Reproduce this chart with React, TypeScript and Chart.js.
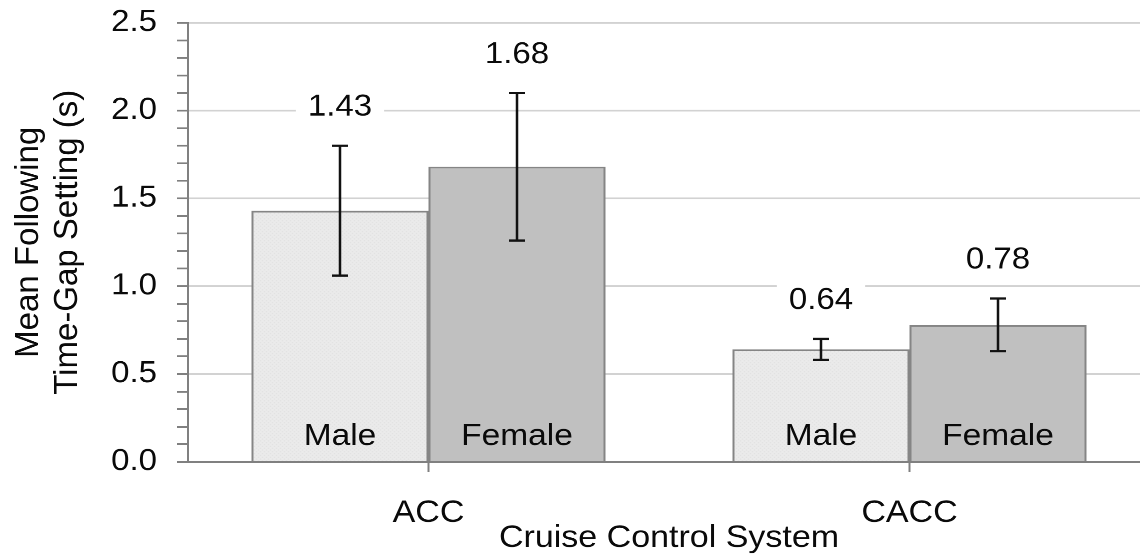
import { useEffect, useRef } from 'react';
import { Chart, registerables } from 'chart.js';

Chart.register(...registerables);

const categories = ['ACC', 'CACC'];
const seriesNames = ['Male', 'Female'];
const maleMeans = [1.43, 0.64];
const femaleMeans = [1.68, 0.78];
const maleErrors = [0.37, 0.06];
const femaleErrors = [0.42, 0.15];
const yMajorTicks = [0, 0.5, 1.0, 1.5, 2.0, 2.5];
const yTitle = ['Mean Following', 'Time-Gap Setting (s)'];
const xTitle = 'Cruise Control System';

const FONT = "'Liberation Sans', Arial, Helvetica, sans-serif";
const SY = 0.91; // vertical squash of the original picture
const CANVAS_W = 1170;
const CANVAS_H = 612;
const TEXT = '#0a0a0a';
const errorSets = [maleErrors, femaleErrors];

const isMajor = (v: number) => yMajorTicks.some((m) => Math.abs(m - v) < 1e-6);

function makePattern(): CanvasPattern | string {
  const c = document.createElement('canvas');
  c.width = 4;
  c.height = 4;
  const g = c.getContext('2d');
  if (!g) return '#e8e8e8';
  g.fillStyle = '#ebebeb';
  g.fillRect(0, 0, 4, 4);
  g.fillStyle = '#dcdcdc';
  g.fillRect(0, 0, 1, 1);
  g.fillRect(2, 2, 1, 1);
  const p = g.createPattern(c, 'repeat');
  return p || '#e8e8e8';
}

const overlayPlugin = {
  id: 'overlay',
  afterDatasetsDraw(chart: any) {
    const ctx = chart.ctx as CanvasRenderingContext2D;
    const y = chart.scales.y;
    const base = y.getPixelForValue(0);
    ctx.save();
    chart.data.datasets.forEach((ds: any, di: number) => {
      const meta = chart.getDatasetMeta(di);
      const errs = errorSets[di];
      meta.data.forEach((bar: any, i: number) => {
        const v = ds.data[i] as number;
        const e = errs[i];
        const x = bar.x;
        const top = y.getPixelForValue(v + e);
        const bot = y.getPixelForValue(v - e);
        // error bar
        ctx.strokeStyle = '#111';
        ctx.lineWidth = 2.5;
        ctx.beginPath();
        ctx.moveTo(x, top);
        ctx.lineTo(x, bot);
        ctx.moveTo(x - 8, top);
        ctx.lineTo(x + 8, top);
        ctx.moveTo(x - 8, bot);
        ctx.lineTo(x + 8, bot);
        ctx.stroke();
        // value label with white box
        ctx.font = `33px ${FONT}`;
        const txt = v.toFixed(2);
        const w = ctx.measureText(txt).width;
        const cy = top - 42;
        ctx.fillStyle = '#ffffff';
        ctx.fillRect(x - w / 2 - 12, cy - 19, w + 24, 38);
        ctx.fillStyle = TEXT;
        ctx.textAlign = 'center';
        ctx.textBaseline = 'middle';
        ctx.fillText(txt, x, cy);
        // series name inside bar
        ctx.font = `33.5px ${FONT}`;
        ctx.fillText(ds.label, x, base - 27.5);
      });
    });
    ctx.restore();
  },
  afterDraw(chart: any) {
    // y-axis title, drawn rotated; counter the page's vertical squash so its length is true
    const ctx = chart.ctx as CanvasRenderingContext2D;
    const area = chart.chartArea;
    const cy = (area.top + area.bottom) / 2;
    ctx.save();
    ctx.font = `33px ${FONT}`;
    ctx.fillStyle = TEXT;
    ctx.textAlign = 'center';
    ctx.textBaseline = 'middle';
    yTitle.forEach((line, i) => {
      ctx.save();
      ctx.translate(29 + i * 39, cy);
      ctx.scale(1, 1 / SY);
      ctx.rotate(-Math.PI / 2);
      ctx.fillText(line, 0, 0);
      ctx.restore();
    });
    ctx.restore();
  },
};

export default function App() {
  const ref = useRef<HTMLCanvasElement | null>(null);

  useEffect(() => {
    if (!ref.current) return;
    const chart = new Chart(ref.current, {
      type: 'bar',
      data: {
        labels: categories,
        datasets: [
          {
            label: seriesNames[0],
            data: maleMeans,
            backgroundColor: makePattern() as any,
            borderColor: '#858585',
            borderWidth: 2,
            categoryPercentage: 0.736,
            barPercentage: 1.0,
          },
          {
            label: seriesNames[1],
            data: femaleMeans,
            backgroundColor: '#c0c0c0',
            borderColor: '#858585',
            borderWidth: 2,
            categoryPercentage: 0.736,
            barPercentage: 1.0,
          },
        ],
      },
      options: {
        responsive: false,
        animation: false,
        devicePixelRatio: 2,
        layout: { padding: { top: 25, right: 20, left: 0, bottom: 0 } },
        plugins: {
          legend: { display: false },
          tooltip: { enabled: false },
        },
        scales: {
          x: {
            type: 'category',
            afterFit: (s: any) => {
              s.height = 104.5;
              s.paddingLeft = 0;
              s.paddingRight = 0;
            },
            grid: {
              offset: false,
              drawOnChartArea: false,
              drawTicks: true,
              tickLength: 11,
              tickColor: '#808080',
              tickWidth: 2,
            },
            border: { color: '#808080', width: 2 },
            ticks: {
              color: TEXT,
              font: { family: FONT, size: 34 },
              padding: 25,
              maxRotation: 0,
            },
            title: {
              display: true,
              text: xTitle,
              color: TEXT,
              font: { family: FONT, size: 34, lineHeight: 1.2 },
              padding: { top: 0, bottom: 0 },
            },
          },
          y: {
            type: 'linear',
            min: 0,
            max: 2.5,
            afterFit: (s: any) => {
              s.width = 188;
              s.paddingTop = 0;
              s.paddingBottom = 0;
            },
            grid: {
              color: (c: any) =>
                c.tick && isMajor(c.tick.value) && c.tick.value !== 0 ? '#d2d2d2' : 'rgba(0,0,0,0)',
              lineWidth: 2,
              drawTicks: true,
              tickLength: 11,
              tickColor: '#808080',
              tickWidth: 2,
            },
            border: { color: '#808080', width: 2 },
            ticks: {
              stepSize: 0.1,
              maxTicksLimit: 100,
              autoSkip: false,
              color: TEXT,
              font: { family: FONT, size: 33 },
              padding: 20,
              callback: (v: any) => (isMajor(Number(v)) ? Number(v).toFixed(1) : ''),
            },
            title: { display: false },
          },
        },
      },
      plugins: [overlayPlugin],
    });
    return () => chart.destroy();
  }, []);

  return (
    <div
      style={{
        position: 'absolute',
        left: 0,
        top: 0,
        width: 1140,
        height: 557,
        overflow: 'hidden',
        background: '#ffffff',
      }}
    >
      <div
        style={{
          width: CANVAS_W,
          height: CANVAS_H,
          transform: `scaleY(${SY})`,
          transformOrigin: '0 0',
        }}
      >
        <canvas ref={ref} width={CANVAS_W} height={CANVAS_H} style={{ display: 'block' }} />
      </div>
    </div>
  );
}
